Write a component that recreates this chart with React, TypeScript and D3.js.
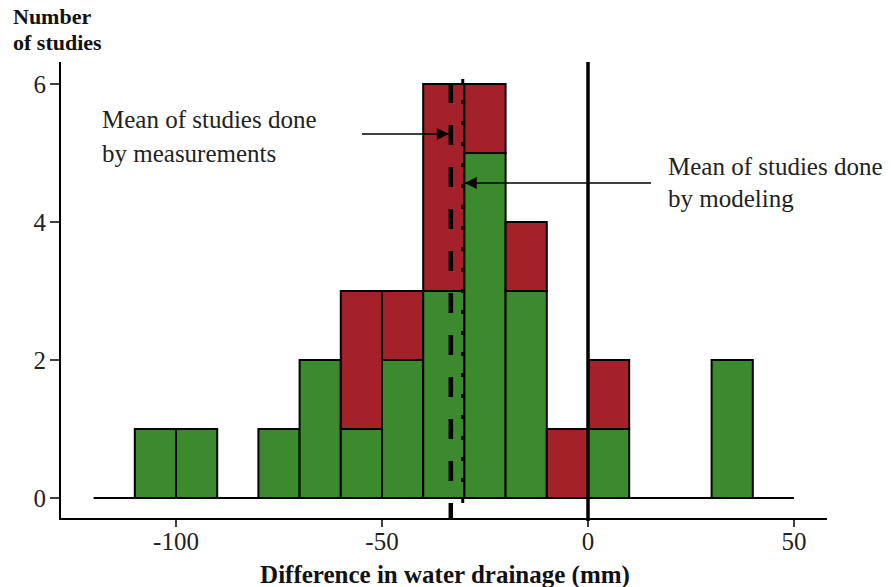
import React from "react";
import * as d3 from "d3";

const binStarts = [-110, -100, -90, -80, -70, -60, -50, -40, -30, -20, -10, 0, 10, 20, 30];
const greenCounts = [1, 1, 0, 1, 2, 1, 2, 3, 5, 3, 0, 1, 0, 0, 2];
const redCounts = [0, 0, 0, 0, 0, 2, 1, 3, 1, 1, 1, 1, 0, 0, 0];
const xTicks = [-100, -50, 0, 50];
const yTicks = [0, 2, 4, 6];
const meanMeasurements = -33.3;
const meanModeling = -30.4;
const binWidth = 10;

const GREEN = "#3b8a2e";
const RED = "#a4212a";
const FONT = "'Liberation Serif', 'Times New Roman', serif";

export default function App() {
  const x = d3.scaleLinear().domain([-100, 0]).range([176, 588]);
  const y = d3.scaleLinear().domain([0, 6]).range([498, 84]);
  const axisY = 519;
  const axisX = 60;

  return (
    <svg width={891} height={587} style={{ position: "absolute", left: 0, top: 0, background: "#fff" }}>
      <defs>
        <marker id="arr" viewBox="0 0 10 10" refX="10" refY="5" markerWidth="14" markerHeight="12" markerUnits="userSpaceOnUse" orient="auto">
          <path d="M0,0 L10,5 L0,10 z" fill="#000" />
        </marker>
      </defs>
      {/* baseline */}
      <line x1={x(-120)} x2={x(50)} y1={y(0)} y2={y(0)} stroke="#000" strokeWidth={2} />
      {/* bars */}
      {binStarts.map((b, i) => {
        const g = greenCounts[i];
        const r = redCounts[i];
        const x0 = x(b);
        const w = x(b + binWidth) - x(b);
        return (
          <g key={b}>
            {g > 0 && (
              <rect x={x0} y={y(g)} width={w} height={y(0) - y(g)} fill={GREEN} stroke="#000" strokeWidth={2} />
            )}
            {r > 0 && (
              <rect x={x0} y={y(g + r)} width={w} height={y(g) - y(g + r)} fill={RED} stroke="#000" strokeWidth={2} />
            )}
          </g>
        );
      })}
      {/* zero line */}
      <line x1={x(0)} x2={x(0)} y1={62} y2={axisY + 2} stroke="#000" strokeWidth={3.5} />
      {/* mean lines */}
      <line x1={x(meanMeasurements)} x2={x(meanMeasurements)} y1={83} y2={axisY + 1} stroke="#000" strokeWidth={4.5} strokeDasharray="20 22" />
      <line x1={x(meanModeling)} x2={x(meanModeling)} y1={79} y2={axisY + 1} stroke="#000" strokeWidth={3} strokeDasharray="4 17" />
      {/* axes */}
      <line x1={axisX} x2={axisX} y1={62} y2={axisY + 1} stroke="#000" strokeWidth={2} />
      <line x1={axisX - 1} x2={827} y1={axisY} y2={axisY} stroke="#000" strokeWidth={2} />
      {yTicks.map((t) => (
        <g key={t}>
          <line x1={axisX - 10} x2={axisX} y1={y(t)} y2={y(t)} stroke="#000" strokeWidth={1.5} />
          <text x={axisX - 14} y={y(t)} dy="0.36em" textAnchor="end" fontFamily={FONT} fontSize={25} fill="#222">
            {t}
          </text>
        </g>
      ))}
      {xTicks.map((t) => (
        <g key={t}>
          <line x1={x(t)} x2={x(t)} y1={axisY} y2={axisY + 8} stroke="#000" strokeWidth={1.5} />
          <text x={x(t)} y={550} textAnchor="middle" fontFamily={FONT} fontSize={25} fill="#222">
            {t}
          </text>
        </g>
      ))}
      {/* titles */}
      <text x={13} y={24} fontFamily={FONT} fontSize={22} fontWeight="bold" fill="#111">Number</text>
      <text x={13} y={50} fontFamily={FONT} fontSize={22} fontWeight="bold" fill="#111">of studies</text>
      <text x={445} y={583} textAnchor="middle" fontFamily={FONT} fontSize={25} fontWeight="bold" fill="#111">
        Difference in water drainage (mm)
      </text>
      {/* annotations */}
      <text x={102} y={128} fontFamily={FONT} fontSize={25} fill="#222">Mean of studies done</text>
      <text x={102} y={162} fontFamily={FONT} fontSize={25} fill="#222">by measurements</text>
      <line x1={362} x2={x(meanMeasurements) - 2} y1={134} y2={134} stroke="#000" strokeWidth={1.3} markerEnd="url(#arr)" />
      <text x={668} y={175} fontFamily={FONT} fontSize={25} fill="#222">Mean of studies done</text>
      <text x={668} y={207} fontFamily={FONT} fontSize={25} fill="#222">by modeling</text>
      <line x1={651} x2={x(meanModeling) + 2} y1={183} y2={183} stroke="#000" strokeWidth={1.3} markerEnd="url(#arr)" />
    </svg>
  );
}
